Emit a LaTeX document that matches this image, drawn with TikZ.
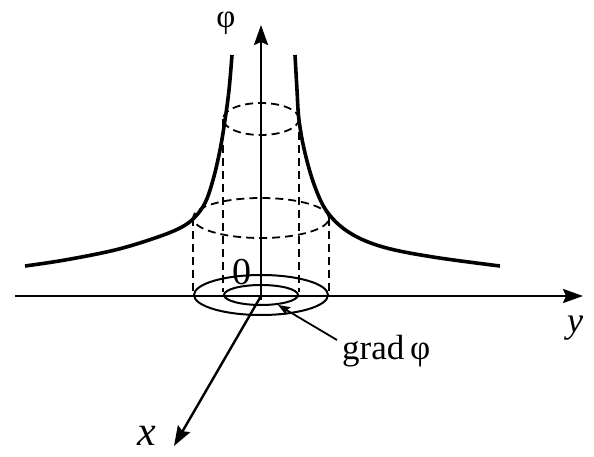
\documentclass[tikz,border=0pt]{standalone}
\usepackage{fontspec}
\setmainfont{Liberation Serif}
\usetikzlibrary{arrows.meta}
\begin{document}
\begin{tikzpicture}[x=1pt,y=-1pt,
  axis/.style={line width=2.4pt,-{Stealth[length=20pt,width=14pt,inset=3pt]}},
  curve/.style={line width=3.6pt},
  dsh/.style={line width=1.8pt,dash pattern=on 8pt off 5pt},
  ring/.style={line width=2pt},
  lab/.style={inner sep=0pt}]
\useasboundingbox (0,0) rectangle (594,457);
\coordinate (O) at (261,296);
\coordinate (Ystart) at (15,296);
\coordinate (Ytip) at (583,296);
\coordinate (Pbase) at (261,300);
\coordinate (Ptip) at (261,25);
\coordinate (Xtip) at (174,446);
% curves
\draw[curve] plot[smooth,tension=0.6] coordinates {(232,55) (229,90) (225,120) (220,150) (213,180) (205,203) (194,218) (180,228) (155,238) (115,250) (65,260) (25,266)};
\draw[curve] plot[smooth,tension=0.6] coordinates {(295,55) (297,90) (299,120) (305,153) (315,187) (328,213) (350,233) (383,247) (433,257) (500,266)};
% dashed cylinders
\draw[dsh] (261,119) ellipse [x radius=38pt, y radius=16pt];
\draw[dsh] (261,218) ellipse [x radius=68pt, y radius=20pt];
\draw[dsh] (223,119) -- (223,292);
\draw[dsh] (299,119) -- (299,292);
\draw[dsh] (193,218) -- (193,292);
\draw[dsh] (329,218) -- (329,292);
% ground rings
\draw[ring] (261,295) ellipse [x radius=67pt, y radius=20pt];
\draw[ring] (261,295) ellipse [x radius=37pt, y radius=10pt];
% axes
\draw[axis] (Ystart) -- (Ytip);
\draw[axis] (Pbase) -- (Ptip);
\draw[axis] (O) -- (Xtip);
% labels
\node[lab,font=\fontsize{33}{35}\selectfont] (phi) at (226,23) {φ};
\node[lab,font=\fontsize{38}{40}\selectfont] (zero) at (242,272) {0};
\node[lab,font=\fontsize{42}{44}\selectfont\itshape] (xl) at (147,436) {x};
\node[lab,font=\fontsize{36}{38}\selectfont\itshape] (yl) at (575,328) {y};
\node[lab,font=\fontsize{35}{37}\selectfont,anchor=west] (grad) at (342,351) {grad\,φ};
\coordinate (gtip) at (278,305);
\coordinate (gstart) at (337,340);
\draw[line width=1.8pt,-{Stealth[length=12pt,width=9pt,inset=2pt]}] (gstart) -- (gtip);
\end{tikzpicture}
\end{document}
